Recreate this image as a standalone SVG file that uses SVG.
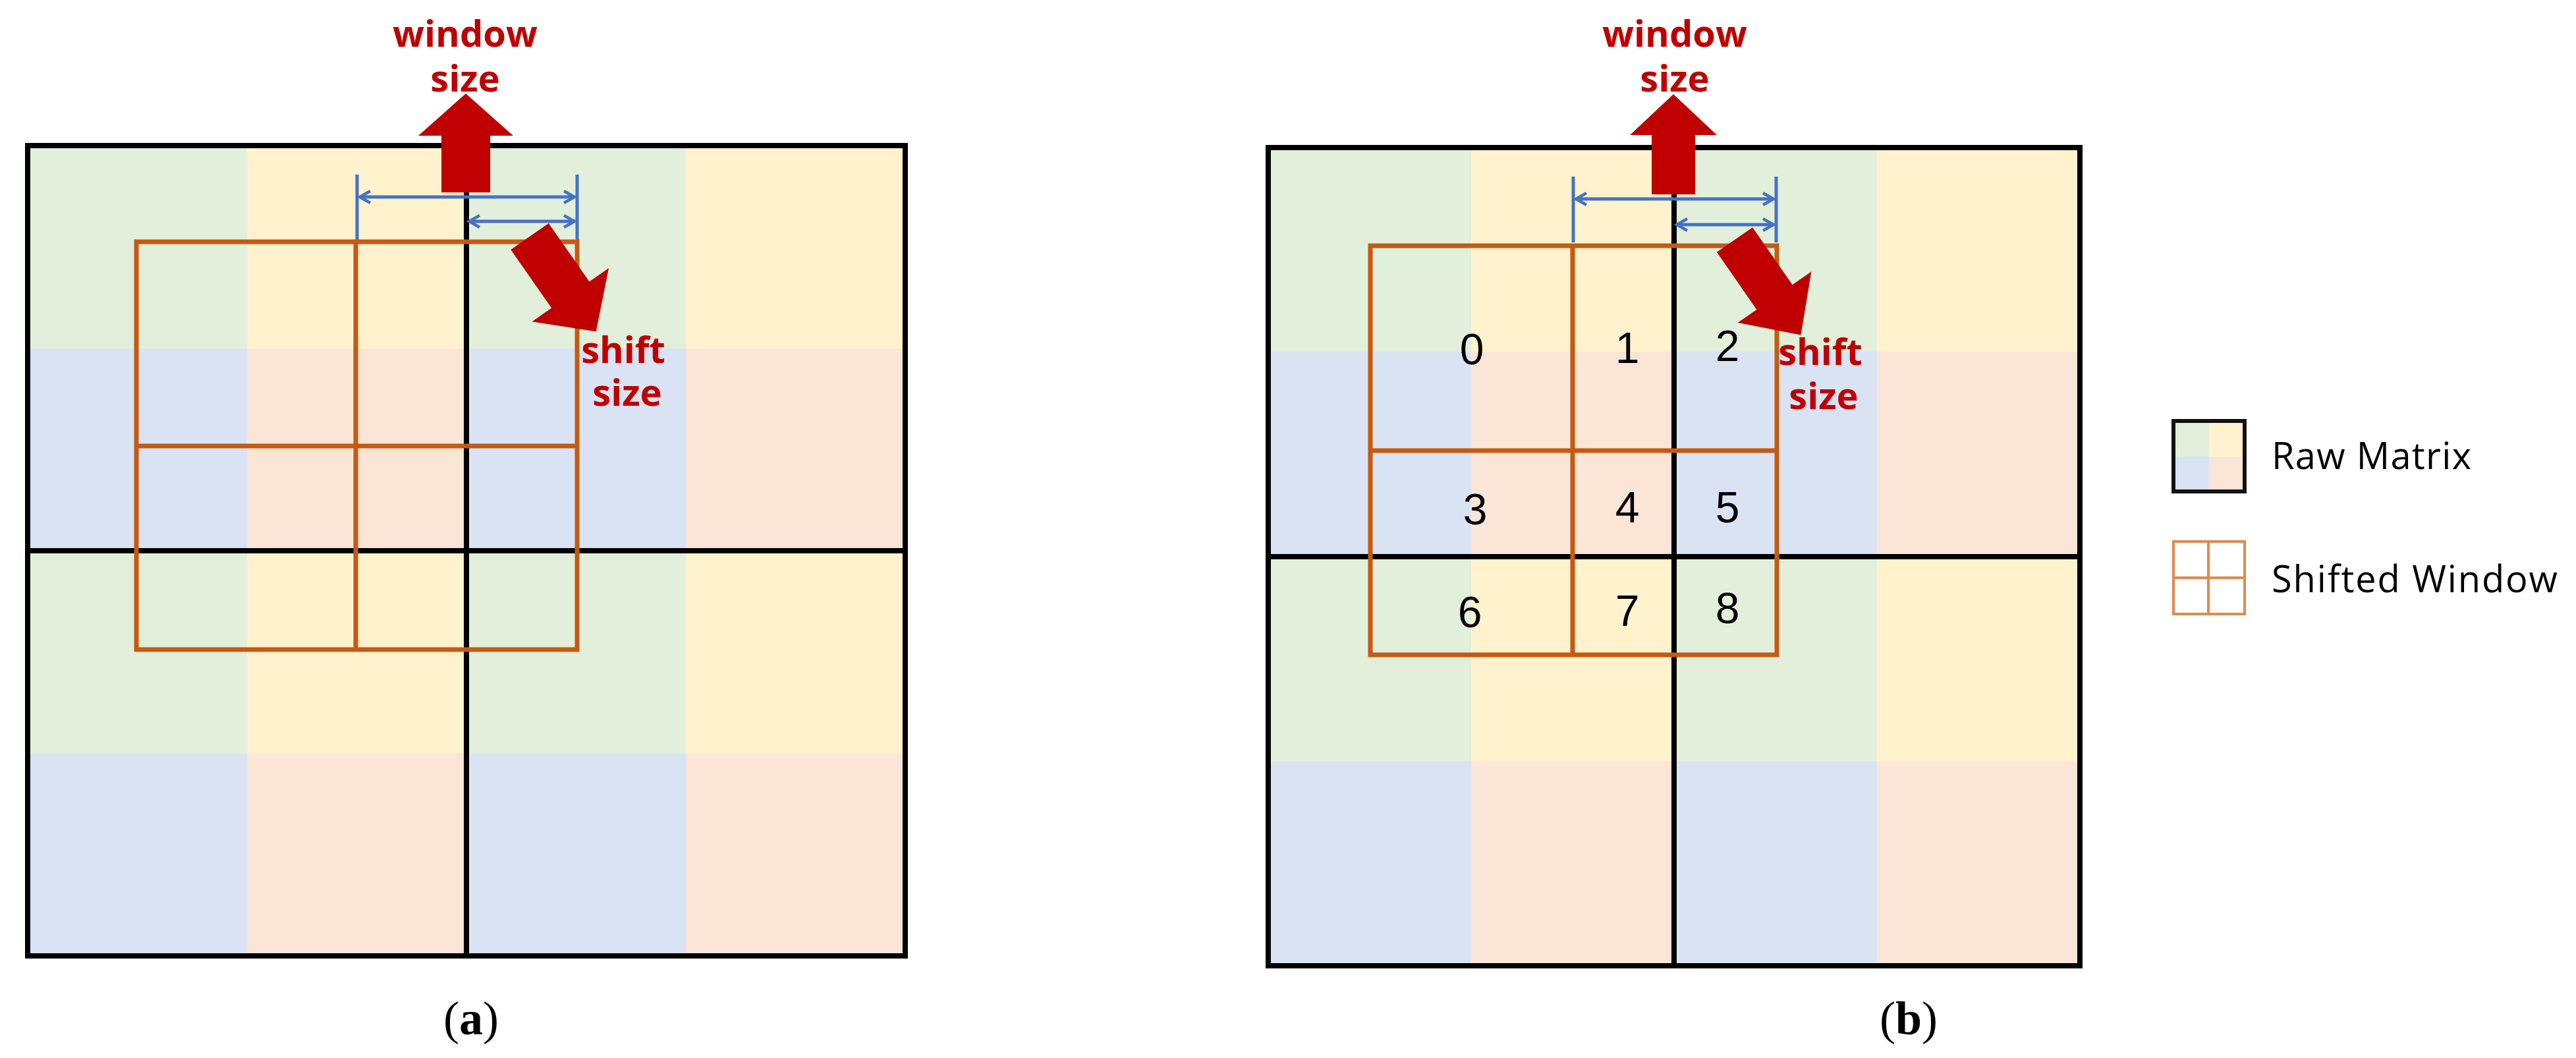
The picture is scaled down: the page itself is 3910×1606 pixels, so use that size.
<svg xmlns="http://www.w3.org/2000/svg" width="3910" height="1606" viewBox="0 0 3910 1606">
<style>
.g{fill:#E2EFDA}.y{fill:#FFF2CC}.b{fill:#DAE3F3}.p{fill:#FBE5D6}
.blk{fill:none;stroke:#000;stroke-width:8}
.org{fill:none;stroke:#C55A11;stroke-width:7}
.blu{fill:none;stroke:#4472C4;stroke-width:5}
.red{fill:#C00000}
.rt{font-family:"Open Sans","Liberation Sans",sans-serif;font-weight:bold;font-size:56px;fill:#C00000;text-anchor:middle}
.num{font-family:"Liberation Sans",Arial,sans-serif;font-size:66px;fill:#000;text-anchor:middle}
.lg{font-family:"Open Sans","Liberation Sans",sans-serif;font-size:56px;fill:#000}
.cap{font-family:"Liberation Serif","Times New Roman",serif;font-size:72px;fill:#000;text-anchor:middle}
</style>
<defs>
<marker id="ah" viewBox="0 0 12 12" refX="10" refY="6" markerWidth="24" markerHeight="24" orient="auto-start-reverse" markerUnits="userSpaceOnUse">
<path d="M2,1.5 L10,6 L2,10.5" fill="none" stroke="#4472C4" stroke-width="2.2"/>
</marker>
</defs>
<rect width="3910" height="1606" fill="#fff"/>

<g id="panel-a">
<g id="a-cells">
<rect x="42" y="221" width="333" height="308" class="g"/><rect x="375" y="221" width="333" height="308" class="y"/>
<rect x="708" y="221" width="333" height="308" class="g"/><rect x="1041" y="221" width="333" height="308" class="y"/>
<rect x="42" y="529" width="333" height="307" class="b"/><rect x="375" y="529" width="333" height="307" class="p"/>
<rect x="708" y="529" width="333" height="307" class="b"/><rect x="1041" y="529" width="333" height="307" class="p"/>
<rect x="42" y="836" width="333" height="308" class="g"/><rect x="375" y="836" width="333" height="308" class="y"/>
<rect x="708" y="836" width="333" height="308" class="g"/><rect x="1041" y="836" width="333" height="308" class="y"/>
<rect x="42" y="1144" width="333" height="307" class="b"/><rect x="375" y="1144" width="333" height="307" class="p"/>
<rect x="708" y="1144" width="333" height="307" class="b"/><rect x="1041" y="1144" width="333" height="307" class="p"/>
</g>
<rect x="42" y="221" width="1332" height="1230" class="blk"/>
<line x1="708" y1="221" x2="708" y2="1451" class="blk"/>
<line x1="42" y1="836" x2="1374" y2="836" class="blk"/>
<g id="a-window">
<rect x="207" y="367" width="669" height="619" class="org"/>
<line x1="540" y1="367" x2="540" y2="986" class="org"/>
<line x1="207" y1="677" x2="876" y2="677" class="org"/>
</g>
</g>

<g id="panel-b">
<g id="b-cells">
<rect x="1925" y="224" width="308" height="310" class="g"/><rect x="2233" y="224" width="308" height="310" class="y"/>
<rect x="2541" y="224" width="308" height="310" class="g"/><rect x="2849" y="224" width="308" height="310" class="y"/>
<rect x="1925" y="534" width="308" height="311" class="b"/><rect x="2233" y="534" width="308" height="311" class="p"/>
<rect x="2541" y="534" width="308" height="311" class="b"/><rect x="2849" y="534" width="308" height="311" class="p"/>
<rect x="1925" y="845" width="308" height="311" class="g"/><rect x="2233" y="845" width="308" height="311" class="y"/>
<rect x="2541" y="845" width="308" height="311" class="g"/><rect x="2849" y="845" width="308" height="311" class="y"/>
<rect x="1925" y="1156" width="308" height="310" class="b"/><rect x="2233" y="1156" width="308" height="310" class="p"/>
<rect x="2541" y="1156" width="308" height="310" class="b"/><rect x="2849" y="1156" width="308" height="310" class="p"/>
</g>
<rect x="1925" y="224" width="1232" height="1242" class="blk"/>
<line x1="2541" y1="224" x2="2541" y2="1466" class="blk"/>
<line x1="1925" y1="845" x2="3157" y2="845" class="blk"/>
<g id="b-window">
<rect x="2080" y="373" width="617" height="621" class="org"/>
<line x1="2387" y1="373" x2="2387" y2="994" class="org"/>
<line x1="2080" y1="684" x2="2697" y2="684" class="org"/>
</g>
<g id="b-numbers">
<text x="2234" y="553" class="num">0</text><text x="2470" y="551" class="num">1</text><text x="2622" y="548" class="num">2</text>
<text x="2239" y="796" class="num">3</text><text x="2470" y="793" class="num">4</text><text x="2622" y="793" class="num">5</text>
<text x="2231" y="952" class="num">6</text><text x="2470" y="950" class="num">7</text><text x="2622" y="946" class="num">8</text>
</g>
</g>

<g id="connectors">
<line x1="542" y1="265" x2="542" y2="364" class="blu"/>
<line x1="876" y1="265" x2="876" y2="364" class="blu"/>
<line x1="546" y1="299" x2="872" y2="299" class="blu" marker-start="url(#ah)" marker-end="url(#ah)"/>
<line x1="712" y1="336" x2="872" y2="336" class="blu" marker-start="url(#ah)" marker-end="url(#ah)"/>
<polygon class="red" points="707,142 779,206 744,206 744,292 670,292 670,206 635,206"/>
<polygon class="red" transform="translate(804,359) rotate(55.1)" points="0,-35 108,-35 108,-71 176,0 108,71 108,35 0,35"/>

<line x1="2388" y1="268" x2="2388" y2="368" class="blu"/>
<line x1="2696" y1="268" x2="2696" y2="368" class="blu"/>
<line x1="2392" y1="302" x2="2692" y2="302" class="blu" marker-start="url(#ah)" marker-end="url(#ah)"/>
<line x1="2545" y1="341" x2="2692" y2="341" class="blu" marker-start="url(#ah)" marker-end="url(#ah)"/>
<polygon class="red" points="2540,143 2606,205 2573,205 2573,295 2507,295 2507,205 2474,205"/>
<polygon class="red" transform="translate(2633,364) rotate(55.2)" points="0,-33 106,-33 106,-68 176,0 106,68 106,33 0,33"/>
</g>

<g id="labels">
<text x="706" y="71" class="rt">window</text><text x="706" y="139" class="rt">size</text>
<text x="946" y="551" class="rt">shift</text><text x="952" y="616" class="rt">size</text>
<text x="2542" y="71" class="rt">window</text><text x="2542" y="139" class="rt">size</text>
<text x="2763" y="554" class="rt">shift</text><text x="2768" y="621" class="rt">size</text>
<text x="715" y="1570" class="cap">(<tspan font-weight="bold">a</tspan>)</text>
<text x="2897" y="1570" class="cap">(<tspan font-weight="bold">b</tspan>)</text>
</g>

<g id="legend">
<g id="legend-raw">
<rect x="3299" y="639" width="54" height="54" class="g"/><rect x="3353" y="639" width="54" height="54" class="y"/>
<rect x="3299" y="693" width="54" height="53" class="b"/><rect x="3353" y="693" width="54" height="53" class="p"/>
<rect x="3299" y="639" width="108" height="107" fill="none" stroke="#111" stroke-width="6"/>
<text x="3448" y="712" class="lg" textLength="303">Raw Matrix</text>
</g>
<g id="legend-window">
<rect x="3299" y="822" width="108" height="110" fill="none" stroke="#E08A4E" stroke-width="4"/>
<line x1="3352" y1="822" x2="3352" y2="932" stroke="#E08A4E" stroke-width="4"/>
<line x1="3299" y1="877" x2="3407" y2="877" stroke="#E08A4E" stroke-width="4"/>
<text x="3448" y="899" class="lg" textLength="434">Shifted Window</text>
</g>
</g>
</svg>
